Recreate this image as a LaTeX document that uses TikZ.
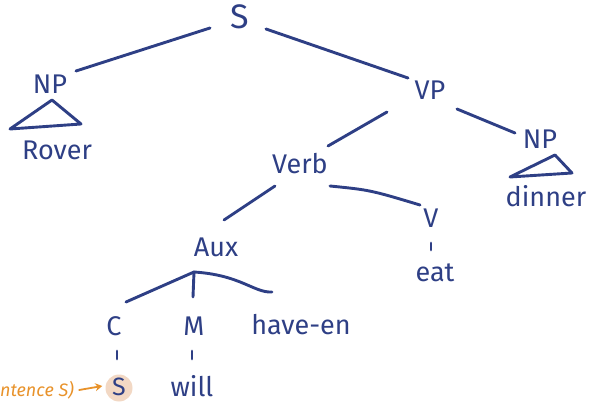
\documentclass[tikz,border=0pt]{standalone}
\usepackage{fontspec}
\setmainfont{Fira Sans}
\usetikzlibrary{arrows.meta,calc}
\definecolor{ink}{HTML}{2E3F85}
\definecolor{note}{HTML}{E8922A}
\definecolor{peach}{HTML}{F2D8C4}
\begin{document}
\begin{tikzpicture}[x=1pt,y=-1pt,
  lab/.style={text=ink,font=\fontsize{27}{29}\selectfont,inner sep=1pt},
  big/.style={text=ink,font=\fontsize{34}{36}\selectfont,inner sep=1pt},
  edge/.style={draw=ink,line width=2.9pt,line cap=round,line join=round}]
\useasboundingbox (0,0) rectangle (590,404);
% nodes
\node[big] (S) at (240,17) {S};
\node[lab] (NPl) at (50,84) {NP};
\node[lab] (Rover) at (57,150) {Rover};
\node[lab] (VP) at (430,90) {VP};
\node[lab] (NPr) at (540,139) {NP};
\node[lab] (dinner) at (546,196) {dinner};
\node[lab] (Verb) at (300,164) {Verb};
\node[lab] (V) at (431,218) {V};
\node[lab] (eat) at (435,273) {eat};
\node[lab] (Aux) at (216,247) {Aux};
\node[lab] (C) at (114,326) {C};
\node[lab] (M) at (194,326) {M};
\node[lab] (haveen) at (301,325) {have-en};
\node[circle,fill=peach,minimum size=27pt,inner sep=0pt] (Sbg) at (119,388) {};
\node[lab,font=\fontsize{25}{27}\selectfont,inner sep=0pt] (Sl) at (119,387) {S};
\node[lab] (will) at (192,386) {will};
\node[text=note,font=\fontsize{18}{20}\selectfont\itshape,anchor=west,inner sep=0pt] (note) at (0,390) {ntence S)};
% connectors
\draw[edge] ($(S)+(-30,11)$) -- ($(NPl)+(26,-13)$);
\draw[edge] ($(S)+(26,12)$) -- ($(VP)+(-22,-12)$);
\draw[edge] ($(VP)+(-43,22)$) -- ($(Verb)+(28,-18)$);
\draw[edge] ($(VP)+(27,19)$) -- ($(NPr)+(-25,-6)$);
\draw[edge] ($(Verb)+(-25,22)$) -- ($(Aux)+(8,-27)$);
\draw[edge] ($(Verb)+(30,22)$) .. controls ($(Verb)+(70,26)$) .. ($(V)+(-11,-13)$);
\draw[edge] ($(V)+(0,25)$) -- ($(V)+(0,32)$);
% triangles
\draw[edge] ($(NPl)+(2,16)$) -- ($(NPl)+(-40,45)$) -- ($(NPl)+(31,40)$) -- cycle;
\draw[edge] ($(NPr)+(15,16)$) -- ($(NPr)+(-30,38)$) -- ($(NPr)+(32,34)$) -- cycle;
% Aux branches
\coordinate (apex) at ($(Aux)+(-22,25)$);
\draw[edge] (apex) -- ($(C)+(12,-24)$);
\draw[edge] (apex) -- ($(M)+(-1,-29)$);
\draw[edge] (apex) .. controls ($(Aux)+(25,28)$) and ($(Aux)+(38,46)$) .. ($(Aux)+(56,45)$);
\draw[edge] ($(C)+(3,25)$) -- ($(C)+(3,33)$);
\draw[edge] ($(M)+(-2,25)$) -- ($(M)+(-2,33)$);
% note arrow
\draw[draw=note,line width=1.8pt,line cap=round,-{Stealth[length=7pt,width=8pt]}] ($(note.east)+(5,0)$) -- ($(Sbg.west)+(-3,-2)$);
\end{tikzpicture}
\end{document}
